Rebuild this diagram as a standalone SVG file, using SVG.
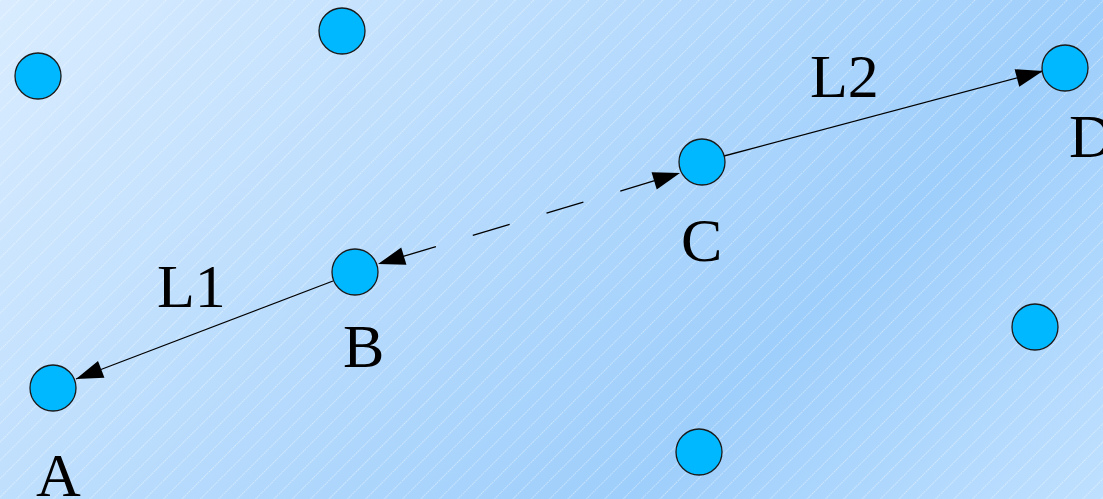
<svg xmlns="http://www.w3.org/2000/svg" width="1103" height="499" viewBox="0 0 1103 499">
  <defs>
    <linearGradient id="bg" gradientUnits="userSpaceOnUse" x1="0" y1="0" x2="801" y2="801">
      <stop offset="0" stop-color="#d9ecff"/>
      <stop offset="0.7" stop-color="#9ecefb"/>
      <stop offset="1" stop-color="#bfe0ff"/>
    </linearGradient>
    <pattern id="hatch" width="13" height="13" patternUnits="userSpaceOnUse" patternTransform="rotate(45)">
      <line x1="0.5" y1="0" x2="0.5" y2="13" stroke="#ffffff" stroke-opacity="0.45" stroke-width="1" stroke-dasharray="1.5 1"/>
    </pattern>
    <marker id="arrow" markerUnits="userSpaceOnUse" markerWidth="30" markerHeight="20" viewBox="-28 -10 30 20" refX="0" refY="0" orient="auto-start-reverse">
      <path d="M0,0 L-27,-9 L-27,9 Z" fill="#000"/>
    </marker>
    <style>
      .node { fill: #00b8ff; stroke: #1a1a1a; stroke-width: 1.3; }
      .conn { stroke: #000; stroke-width: 1.3; fill: none; }
      .lbl { font-family: "Liberation Serif", "Times New Roman", serif; font-size: 62px; fill: #000; }
    </style>
  </defs>
  <rect width="1103" height="499" fill="url(#bg)"/>
  <rect width="1103" height="499" fill="url(#hatch)"/>

  <g id="connectors">
    <line class="conn" x1="333" y1="281" x2="76" y2="379" marker-end="url(#arrow)"/>
    <line class="conn" x1="378" y1="264" x2="680" y2="173" stroke-dasharray="38.5 38.5" stroke-dashoffset="55" marker-start="url(#arrow)" marker-end="url(#arrow)"/>
    <line class="conn" x1="724" y1="156" x2="1043" y2="71" marker-end="url(#arrow)"/>
    <text class="lbl" x="157" y="307">L1</text>
    <text class="lbl" x="810" y="97">L2</text>
  </g>

  <g id="node-A"><circle class="node" cx="53" cy="388" r="23"/><text class="lbl" x="36" y="496">A</text></g>
  <g id="node-B"><circle class="node" cx="355" cy="272" r="23"/><text class="lbl" x="343" y="367">B</text></g>
  <g id="node-C"><circle class="node" cx="702" cy="162" r="23"/><text class="lbl" x="681" y="261">C</text></g>
  <g id="node-D"><circle class="node" cx="1065" cy="68" r="23"/><text class="lbl" x="1069" y="157">D</text></g>
  <g id="node-1"><circle class="node" cx="38" cy="76" r="23"/></g>
  <g id="node-2"><circle class="node" cx="342" cy="31" r="23"/></g>
  <g id="node-3"><circle class="node" cx="1035" cy="327" r="23"/></g>
  <g id="node-4"><circle class="node" cx="699" cy="452" r="23"/></g>
</svg>
